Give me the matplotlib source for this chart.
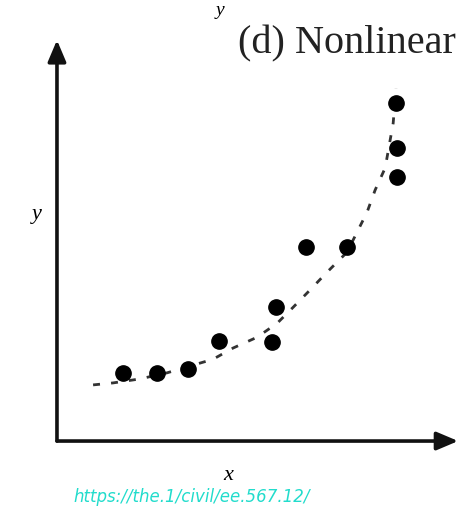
import numpy as np
import matplotlib
matplotlib.use("Agg")
import matplotlib.pyplot as plt

# scatter points (x, y) in axis units, axes run 0..10
x_pts = [1.65, 2.49, 3.27, 4.04, 5.36, 5.46, 6.21, 7.23, 8.48, 8.48, 8.45]
y_pts = [1.70, 1.70, 1.80, 2.49, 2.47, 3.34, 4.84, 4.84, 6.58, 7.31, 8.43]

# dashed trend curve
x_curve = [0.90, 1.40, 2.07, 2.74, 3.89, 4.39, 4.99, 5.49, 5.89, 6.31, 6.73, 7.23,
           7.48, 7.73, 7.93, 8.18, 8.38, 8.45]
y_curve = [1.40, 1.45, 1.55, 1.70, 2.04, 2.32, 2.59, 2.94, 3.34, 3.77, 4.21, 4.71,
           5.21, 5.71, 6.26, 6.81, 7.93, 8.80]

title = "(d) Nonlinear"
source = "https://the.1/civil/ee.567.12/"

fig = plt.figure(figsize=(4.65, 5.08), dpi=100)
ax = fig.add_axes([0, 0, 1, 1])
ax.set_xlim(-1.42, 10.17)
ax.set_ylim(-1.67, 11.0)
ax.axis("off")

# axes with arrowheads
arrow = dict(arrowstyle="-|>,head_length=1.3,head_width=0.55", color="#111111",
             lw=2.6, shrinkA=0, shrinkB=0)
ax.annotate("", xy=(10.0, 0), xytext=(0, 0), arrowprops=arrow)
ax.annotate("", xy=(0, 10.0), xytext=(0, 0), arrowprops=arrow)

ax.plot(x_curve, y_curve, color="#333333", lw=2, dashes=(2.5, 4))
ax.plot(x_pts, y_pts, "o", color="black", ms=11)

serif = "Liberation Serif"
ax.text(4.51, 9.68, title, fontsize=29, family=serif, color="#222222")
ax.text(-0.5, 5.64, "y", fontsize=16, family=serif, style="italic",
        ha="center", va="center")
ax.text(4.26, -0.85, "x", fontsize=16, family=serif, style="italic",
        ha="center", va="center")
ax.text(4.06, 10.75, "y", fontsize=14, family=serif, style="italic",
        ha="center", va="center")
ax.text(0.4, -1.62, source, fontsize=12, style="italic", color="#22dccc",
        va="bottom")

fig.savefig("out.png", dpi=100)
